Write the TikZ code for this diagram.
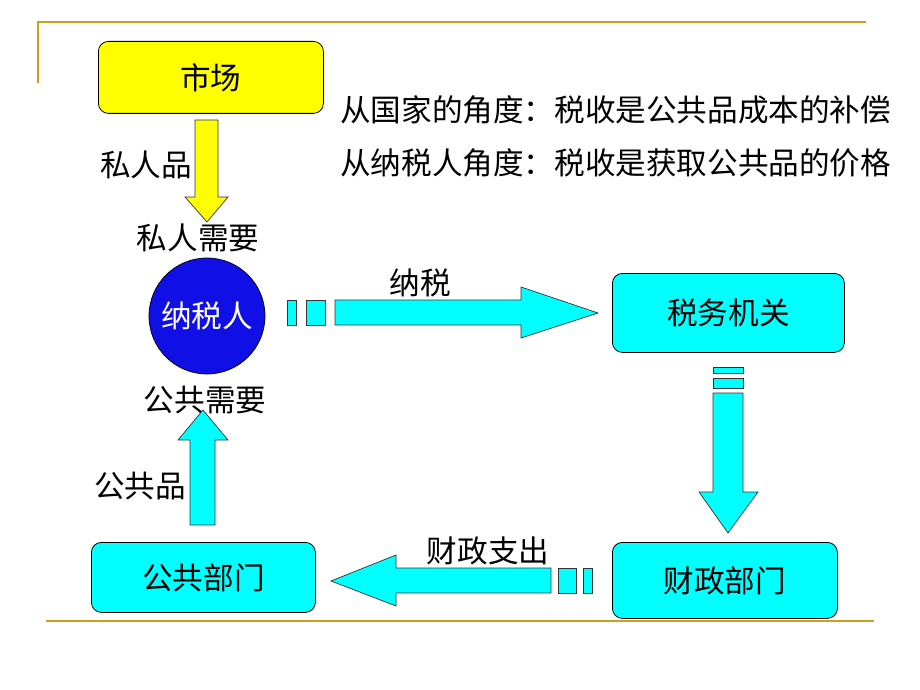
\documentclass[tikz,border=0pt]{standalone}
\usepackage{fontspec}
\setmainfont{Noto Sans CJK SC}
\definecolor{gold}{RGB}{200,160,30}
\definecolor{cy}{RGB}{0,255,255}
\definecolor{ye}{RGB}{255,255,0}
\definecolor{bl}{RGB}{16,16,230}
\begin{document}
\begin{tikzpicture}[x=1pt,y=-1pt,
  txt/.style={font=\fontsize{30.6}{34}\selectfont, inner sep=0pt},
  box/.style={draw=black, line width=0.8pt, rounded corners=10pt, anchor=north west, inner sep=0pt, font=\fontsize{30.6}{34}\selectfont},
  barrow/.style={draw=black!80, line width=0.7pt, fill=cy},
  gline/.style={draw=gold, line width=2.2pt}]
\useasboundingbox (0,0) rectangle (920,690);
% gold frame lines
\draw[gline] (38,22) -- (866,22);
\draw[gline] (38,21) -- (38,83);
\draw[gline] (46,621) -- (874,621);
% boxes
\node[box, fill=ye, minimum width=225pt, minimum height=72pt] (mkt) at (98,41) {市场};
\node[box, fill=cy, minimum width=232pt, minimum height=79pt] (tax) at (612,273) {税务机关};
\node[box, fill=cy, minimum width=224pt, minimum height=70pt] (pub) at (91,542) {公共部门};
\node[box, fill=cy, minimum width=225pt, minimum height=76pt] (fin) at (612,542) {财政部门};
\node[draw=black, line width=0.7pt, fill=bl, circle, minimum size=116pt, inner sep=0pt, text=white, font=\fontsize{30.6}{34}\selectfont] (tp) at (207,316) {纳税人};
% texts
\node[txt, anchor=west] (l1) at (340,110) {从国家的角度：税收是公共品成本的补偿};
\node[txt, anchor=west] (l2) at (340,163) {从纳税人角度：税收是获取公共品的价格};
\node[txt] (sp) at (146,165) {私人品};
\node[txt] (sn) at (198,238) {私人需要};
\node[txt] (gn) at (205,400) {公共需要};
\node[txt] (gp) at (140,486) {公共品};
\node[txt] (ns) at (420,283) {纳税};
\node[txt] (cz) at (488,551) {财政支出};
% yellow down arrow
\draw[barrow, fill=ye] (195,120) -- (218,120) -- (218,197) -- (228,197) -- (207,222) -- (185,197) -- (195,197) -- cycle;
% cyan up arrow
\draw[barrow] (190,525) -- (215,525) -- (215,440) -- (228,440) -- (203,410) -- (178,440) -- (190,440) -- cycle;
% right arrow 纳税
\draw[barrow] (287,300) rectangle (296,325);
\draw[barrow] (306,300) rectangle (325,325);
\draw[barrow] (335,300) -- (521,300) -- (521,287) -- (598,313) -- (521,338) -- (521,325) -- (335,325) -- cycle;
% down arrow
\draw[barrow] (713,367) rectangle (743,373);
\draw[barrow] (713,378) rectangle (743,388);
\draw[barrow] (713,393) -- (743,393) -- (743,492) -- (758,492) -- (728,533) -- (699,492) -- (713,492) -- cycle;
% left arrow
\draw[barrow] (583,568) rectangle (592,593);
\draw[barrow] (558,568) rectangle (576,593);
\draw[barrow] (551,568) -- (396,568) -- (396,555) -- (331,581) -- (396,606) -- (396,593) -- (551,593) -- cycle;
\end{tikzpicture}
\end{document}
